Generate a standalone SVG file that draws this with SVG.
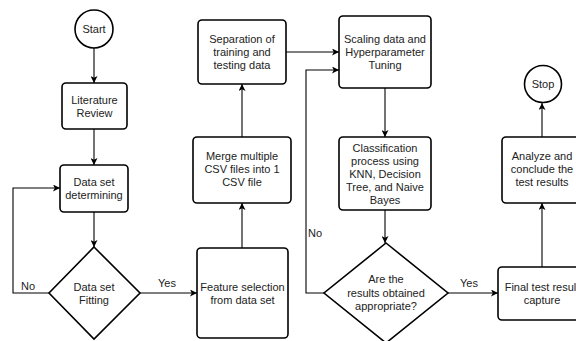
<svg xmlns="http://www.w3.org/2000/svg" width="576" height="341" viewBox="0 0 576 341">
<defs>
<marker id="ah" viewBox="0 0 10 10" refX="10" refY="5" markerWidth="7" markerHeight="7" markerUnits="userSpaceOnUse" orient="auto">
<path d="M0,0 L10,5 L0,10 L2.5,5 Z" fill="#000"/>
</marker>
<style>
.n{fill:#fff;stroke:#000;stroke-width:1.6}
.t{font-family:"Liberation Sans",Arial,sans-serif;font-size:11px;fill:#222;text-anchor:middle}
.c{fill:none;stroke:#000;stroke-width:1.1;marker-end:url(#ah)}
</style>
</defs>
<rect width="576" height="341" fill="#fff"/>
<g id="connectors">
<path class="c" d="M94,48 V83"/>
<path class="c" d="M94,129 V165"/>
<path class="c" d="M94,212 V247"/>
<path class="c" d="M49,293 H13 V188 H60"/>
<path class="c" d="M140,293 H197"/>
<path class="c" d="M242,248 V203"/>
<path class="c" d="M242,137 V84"/>
<path class="c" d="M286,52 H339"/>
<path class="c" d="M324,293 H306 V70 H339"/>
<path class="c" d="M385,88 V137"/>
<path class="c" d="M385,210 V243"/>
<path class="c" d="M448,293 H498"/>
<path class="c" d="M542,267 V203"/>
<path class="c" d="M542,137 V103"/>
<text class="t" x="28" y="290">No</text>
<text class="t" x="167" y="287">Yes</text>
<text class="t" x="315" y="237">No</text>
<text class="t" x="469" y="287">Yes</text>
</g>
<g id="start"><circle class="n" cx="94" cy="29" r="19"/><text class="t" x="94" y="33">Start</text></g>
<g id="literature"><rect class="n" x="62" y="83" width="65" height="46" rx="4"/><text class="t" x="94.5" y="104">Literature</text><text class="t" x="94.5" y="117">Review</text></g>
<g id="determining"><rect class="n" x="60" y="165" width="68" height="47" rx="4"/><text class="t" x="94" y="186">Data set</text><text class="t" x="94" y="199">determining</text></g>
<g id="fitting"><path class="n" d="M94,247 L140,293 L94,339 L49,293 Z"/><text class="t" x="94" y="291">Data set</text><text class="t" x="94" y="304">Fitting</text></g>
<g id="feature"><rect class="n" x="197" y="248" width="91" height="90" rx="4"/><text class="t" x="242.5" y="291">Feature selection</text><text class="t" x="242.5" y="304">from data set</text></g>
<g id="merge"><rect class="n" x="193" y="137" width="98" height="66" rx="4"/><text class="t" x="242" y="160">Merge multiple</text><text class="t" x="242" y="173">CSV files into 1</text><text class="t" x="242" y="186">CSV file</text></g>
<g id="separation"><rect class="n" x="198" y="20" width="88" height="64" rx="4"/><text class="t" x="242" y="43">Separation of</text><text class="t" x="242" y="56">training and</text><text class="t" x="242" y="69">testing data</text></g>
<g id="scaling"><rect class="n" x="339" y="16" width="92" height="72" rx="4"/><text class="t" x="385" y="43">Scaling data and</text><text class="t" x="385" y="56">Hyperparameter</text><text class="t" x="385" y="69">Tuning</text></g>
<g id="classification"><rect class="n" x="339" y="137" width="92" height="73" rx="4"/><text class="t" x="385" y="152">Classification</text><text class="t" x="385" y="165">process using</text><text class="t" x="385" y="178">KNN, Decision</text><text class="t" x="385" y="191">Tree, and Naive</text><text class="t" x="385" y="204">Bayes</text></g>
<g id="appropriate"><path class="n" d="M386,243 L448,293 L386,343 L324,293 Z"/><text class="t" x="386" y="283">Are the</text><text class="t" x="386" y="297">results obtained</text><text class="t" x="386" y="310">appropriate?</text></g>
<g id="final"><rect class="n" x="498" y="267" width="88" height="53" rx="4"/><text class="t" x="542" y="291">Final test result</text><text class="t" x="542" y="304">capture</text></g>
<g id="analyze"><rect class="n" x="502" y="137" width="80" height="66" rx="4"/><text class="t" x="542" y="160">Analyze and</text><text class="t" x="542" y="173">conclude the</text><text class="t" x="542" y="186">test results</text></g>
<g id="stop"><circle class="n" cx="543" cy="84" r="18.5"/><text class="t" x="543" y="88">Stop</text></g>
</svg>
